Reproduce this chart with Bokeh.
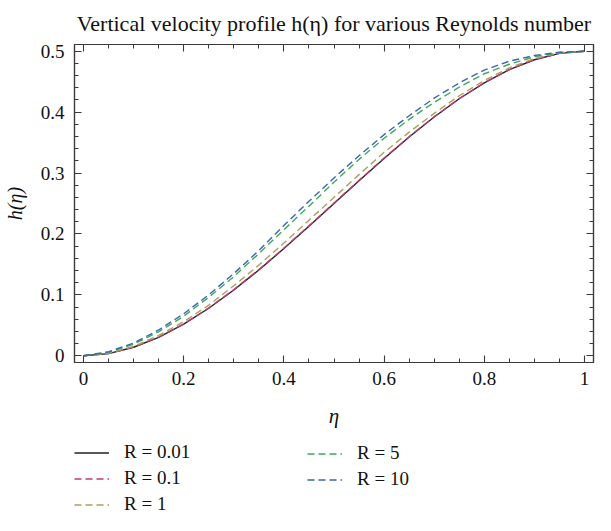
from bokeh.plotting import figure
from bokeh.layouts import column
from bokeh.models import Range1d, LinearAxis, FixedTicker, Legend, LegendItem
from bokeh.embed import file_html
from bokeh.resources import INLINE

# ---------------- data ----------------
eta = [0.0, 0.05, 0.10, 0.15, 0.20, 0.25, 0.30, 0.35, 0.40, 0.45, 0.50,
       0.55, 0.60, 0.65, 0.70, 0.75, 0.80, 0.85, 0.90, 0.95, 1.0]

h_R001 = [0.0, 0.0036, 0.0140, 0.0304, 0.0520, 0.0781, 0.1080, 0.1409, 0.1760, 0.2126, 0.2500,
          0.2874, 0.3240, 0.3591, 0.3920, 0.4219, 0.4480, 0.4696, 0.4860, 0.4964, 0.5000]
h_R01 = [0.0, 0.0037, 0.0142, 0.0307, 0.0524, 0.0786, 0.1086, 0.1416, 0.1768, 0.2134, 0.2508,
         0.2882, 0.3247, 0.3597, 0.3925, 0.4223, 0.4483, 0.4698, 0.4861, 0.4964, 0.5000]
h_R1 = [0.0, 0.0041, 0.0155, 0.0334, 0.0560, 0.0831, 0.1150, 0.1489, 0.1850, 0.2226, 0.2600,
        0.2974, 0.3340, 0.3671, 0.3980, 0.4269, 0.4520, 0.4726, 0.4880, 0.4974, 0.5000]
h_R5 = [0.0, 0.0056, 0.0190, 0.0394, 0.0650, 0.0961, 0.1300, 0.1679, 0.2070, 0.2456, 0.2850,
        0.3224, 0.3570, 0.3881, 0.4160, 0.4409, 0.4630, 0.4786, 0.4910, 0.4974, 0.5000]
h_R10 = [0.0, 0.0066, 0.0210, 0.0424, 0.0690, 0.1001, 0.1350, 0.1729, 0.2140, 0.2536, 0.2920,
         0.3284, 0.3630, 0.3941, 0.4230, 0.4479, 0.4690, 0.4836, 0.4930, 0.4984, 0.5000]

series_labels = ["R = 0.01", "R = 0.1", "R = 1", "R = 5", "R = 10"]

x_ticks = [0, 0.2, 0.4, 0.6, 0.8, 1]
x_tick_labels = ["0", "0.2", "0.4", "0.6", "0.8", "1"]
y_ticks = [0, 0.1, 0.2, 0.3, 0.4, 0.5]
y_tick_labels = ["0", "0.1", "0.2", "0.3", "0.4", "0.5"]

title_text = "Vertical velocity profile h(\u03b7) for various Reynolds number"
x_label = "\u03b7"
y_label = "h(\u03b7)"

# ---------------- styles ----------------
FONT = "Liberation Serif"
AX = "#3a3a3a"
TXT = "#111111"
colors = ["#222222", "#bf3b78", "#ad9f58", "#3da95f", "#3b66b0"]
dashes = ["solid", "7 4", "7 4", "7 4", "7 4"]

x_minor = [round(0.05 * i, 4) for i in range(21) if i % 4 != 0]
y_minor = [round(0.02 * i, 4) for i in range(26) if i % 5 != 0]

W, H_MAIN, H_LEG = 595, 440, 75
p = figure(width=W, height=H_MAIN, output_backend="svg", toolbar_location=None,
           x_range=Range1d(-0.018, 1.018), y_range=Range1d(-0.011, 0.511),
           min_border_left=72, min_border_right=2, min_border_top=35, min_border_bottom=78,
           x_axis_label=x_label, y_axis_label=y_label)

p.background_fill_color = "white"
p.border_fill_color = "white"
p.outline_line_color = AX
p.outline_line_width = 1.2
p.xgrid.visible = False
p.ygrid.visible = False

p.title.text = title_text
p.title.align = "center"
p.title.text_font = FONT
p.title.text_font_size = "22px"
p.title.text_font_style = "normal"
p.title.text_color = TXT
p.title.standoff = 17


def style_axis(ax, ticks, labels, minor, show_labels):
    ax.ticker = FixedTicker(ticks=ticks, minor_ticks=minor)
    ax.axis_line_color = AX
    ax.axis_line_width = 1.2
    ax.major_tick_line_color = AX
    ax.minor_tick_line_color = AX
    ax.major_tick_line_width = 1.1
    ax.minor_tick_line_width = 1.0
    ax.major_tick_in = 7
    ax.major_tick_out = 0
    ax.minor_tick_in = 4
    ax.minor_tick_out = 0
    if show_labels:
        ax.major_label_overrides = {t: s for t, s in zip(ticks, labels)}
        ax.major_label_text_font = FONT
        ax.major_label_text_font_size = "19px"
        ax.major_label_text_color = TXT
        ax.axis_label_text_font = FONT
        ax.axis_label_text_font_style = "italic"
        ax.axis_label_text_color = TXT
    else:
        ax.major_label_overrides = {t: "" for t in ticks}
        ax.major_label_text_font_size = "1px"
        ax.major_label_standoff = 0
        ax.axis_label = None


xa = p.xaxis[0]
ya = p.yaxis[0]
style_axis(xa, x_ticks, x_tick_labels, x_minor, True)
style_axis(ya, y_ticks, y_tick_labels, y_minor, True)
xa.axis_label_text_font_size = "21px"
ya.axis_label_text_font_size = "20px"
xa.major_label_standoff = 9
xa.axis_label_standoff = 16
ya.major_label_standoff = 10
ya.axis_label_standoff = 12

top = LinearAxis()
right = LinearAxis()
p.add_layout(top, "above")
p.add_layout(right, "right")
style_axis(top, x_ticks, x_tick_labels, x_minor, False)
style_axis(right, y_ticks, y_tick_labels, y_minor, False)

all_series = [h_R001, h_R01, h_R1, h_R5, h_R10]
for ys, c, d in zip(all_series, colors, dashes):
    p.line(eta, ys, line_color=c, line_width=1.4, line_dash=d)

# ---------------- legend strip below the plot ----------------
# (its frame is aligned with the main plot's frame by the column layout)
lg = figure(width=W, height=H_LEG, output_backend="svg", toolbar_location=None,
            x_range=Range1d(0, 1), y_range=Range1d(10, 11),
            x_axis_location=None, y_axis_location=None,
            min_border_left=0, min_border_right=0, min_border_top=0, min_border_bottom=0)
lg.outline_line_color = None
lg.xgrid.visible = False
lg.ygrid.visible = False
lg.background_fill_color = "white"
lg.border_fill_color = "white"

# same series; the strip's y-range lies far above them, so only the legend keys show
leg_renderers = []
for ys, c, d in zip(all_series, colors, dashes):
    leg_renderers.append(lg.line(eta, ys, line_color=c, line_width=1.4, line_dash=d))


def make_legend(idx, loc):
    leg = Legend(items=[LegendItem(label=series_labels[i], renderers=[leg_renderers[i]]) for i in idx],
                 location=loc, orientation="vertical")
    leg.label_text_font = FONT
    leg.label_text_font_size = "19px"
    leg.label_text_color = TXT
    leg.glyph_width = 35
    leg.glyph_height = 21
    leg.label_height = 21
    leg.label_standoff = 15
    leg.spacing = 4
    leg.padding = 0
    leg.margin = 0
    leg.border_line_color = None
    leg.background_fill_alpha = 0
    return leg


lg.add_layout(make_legend([0, 1, 2], (0, 0)))
lg.add_layout(make_legend([3, 4], (233, 25)))

layout = column(p, lg, spacing=0)
open("out.html", "w").write(file_html(layout, INLINE))
